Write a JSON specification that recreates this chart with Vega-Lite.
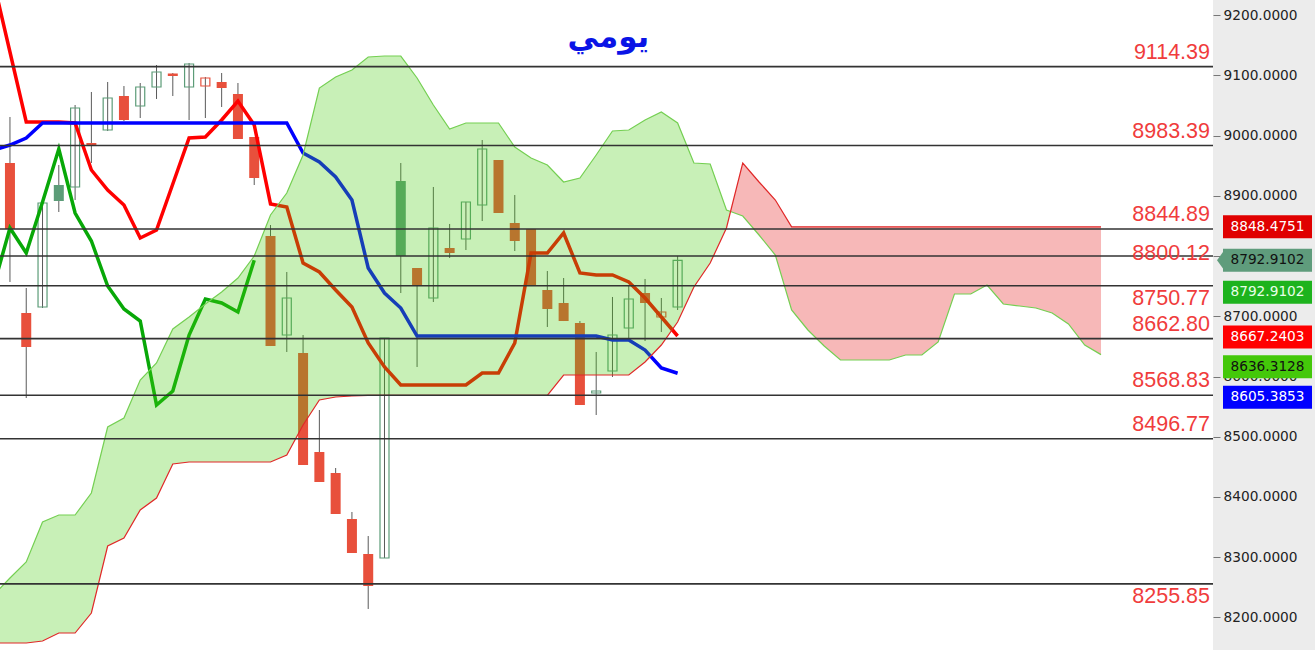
{
  "$schema": "https://vega.github.io/schema/vega-lite/v6.json",
  "width": 1213,
  "height": 650,
  "autosize": {"type": "none"},
  "padding": {"left": 0, "top": 0, "right": 102, "bottom": 0},
  "background": "#ececec",
  "config": {"view": {"fill": "#ffffff", "stroke": null}},
  "datasets": {
    "candles": [
      {"i":0,"o":8954.4,"h":9030.8,"l":8756.9,"c":8844.9},
      {"i":1,"o":8705.4,"h":8746.9,"l":8564.3,"c":8649.0},
      {"i":2,"o":8715.4,"h":8891.3,"l":8713.7,"c":8888.0},
      {"i":3,"o":8917.9,"h":8951.1,"l":8873.1,"c":8891.3},
      {"i":4,"o":8914.6,"h":9050.7,"l":8893.0,"c":9045.7},
      {"i":5,"o":8987.6,"h":9072.3,"l":8954.4,"c":8984.3},
      {"i":6,"o":9009.2,"h":9088.9,"l":9007.5,"c":9062.3},
      {"i":7,"o":9065.6,"h":9082.2,"l":9024.1,"c":9025.8},
      {"i":8,"o":9049.0,"h":9087.2,"l":9029.1,"c":9080.6},
      {"i":9,"o":9080.6,"h":9117.1,"l":9060.7,"c":9105.5},
      {"i":10,"o":9103.0,"h":9103.8,"l":9065.6,"c":9098.8},
      {"i":11,"o":9080.6,"h":9120.4,"l":9025.8,"c":9118.8},
      {"i":12,"o":9082.2,"h":9097.2,"l":9029.1,"c":9095.5},
      {"i":13,"o":9088.9,"h":9103.8,"l":9047.4,"c":9078.9},
      {"i":14,"o":9069.0,"h":9087.2,"l":8994.3,"c":8994.3},
      {"i":15,"o":8997.6,"h":8997.6,"l":8917.9,"c":8929.5},
      {"i":16,"o":8833.2,"h":8851.5,"l":8650.6,"c":8650.6},
      {"i":17,"o":8668.9,"h":8773.5,"l":8640.7,"c":8730.3},
      {"i":18,"o":8639.0,"h":8668.9,"l":8453.1,"c":8453.1},
      {"i":19,"o":8474.7,"h":8544.4,"l":8424.9,"c":8424.9},
      {"i":20,"o":8439.8,"h":8448.1,"l":8371.8,"c":8371.8},
      {"i":21,"o":8363.5,"h":8375.1,"l":8307.0,"c":8307.0},
      {"i":22,"o":8305.4,"h":8335.2,"l":8214.1,"c":8252.2},
      {"i":23,"o":8298.7,"h":8663.9,"l":8298.7,"c":8663.9},
      {"i":24,"o":8924.5,"h":8954.4,"l":8738.6,"c":8800.0},
      {"i":25,"o":8780.1,"h":8780.1,"l":8615.8,"c":8750.2},
      {"i":26,"o":8730.3,"h":8914.6,"l":8723.7,"c":8846.5},
      {"i":27,"o":8813.3,"h":8853.2,"l":8796.7,"c":8805.0},
      {"i":28,"o":8828.3,"h":8889.7,"l":8810.0,"c":8889.7},
      {"i":29,"o":8884.7,"h":8992.6,"l":8858.1,"c":8977.7},
      {"i":30,"o":8959.4,"h":8959.4,"l":8871.4,"c":8871.4},
      {"i":31,"o":8854.8,"h":8901.3,"l":8808.3,"c":8824.9},
      {"i":32,"o":8844.9,"h":8844.9,"l":8750.2,"c":8750.2},
      {"i":33,"o":8743.6,"h":8775.1,"l":8682.2,"c":8712.1},
      {"i":34,"o":8722.0,"h":8763.5,"l":8692.1,"c":8692.1},
      {"i":35,"o":8688.8,"h":8692.1,"l":8552.7,"c":8552.7},
      {"i":36,"o":8572.6,"h":8640.7,"l":8536.1,"c":8575.9},
      {"i":37,"o":8609.1,"h":8732.0,"l":8599.2,"c":8668.9},
      {"i":38,"o":8680.5,"h":8751.9,"l":8663.9,"c":8728.7},
      {"i":39,"o":8738.6,"h":8761.9,"l":8658.9,"c":8722.0},
      {"i":40,"o":8698.8,"h":8730.3,"l":8673.9,"c":8707.1},
      {"i":41,"o":8715.4,"h":8800.0,"l":8710.4,"c":8792.91}
    ],
    "lines": [
      {"i":-1,"tenkan":9254.9,"kijun":8976.0,"chikou":8750.2},
      {"i":0,"tenkan":9138.7,"kijun":8984.3,"chikou":8846.5},
      {"i":1,"tenkan":9022.5,"kijun":8995.9,"chikou":8805.0},
      {"i":2,"tenkan":9022.5,"kijun":9020.8,"chikou":8889.7},
      {"i":3,"tenkan":9022.5,"kijun":9020.8,"chikou":8977.7},
      {"i":4,"tenkan":9020.8,"kijun":9020.8,"chikou":8871.4},
      {"i":5,"tenkan":8942.8,"kijun":9020.8,"chikou":8824.9},
      {"i":6,"tenkan":8909.6,"kijun":9020.8,"chikou":8750.2},
      {"i":7,"tenkan":8884.7,"kijun":9020.8,"chikou":8712.1},
      {"i":8,"tenkan":8829.9,"kijun":9020.8,"chikou":8692.1},
      {"i":9,"tenkan":8843.2,"kijun":9020.8,"chikou":8552.7},
      {"i":10,"tenkan":8919.6,"kijun":9020.8,"chikou":8575.9},
      {"i":11,"tenkan":8995.9,"kijun":9020.8,"chikou":8668.9},
      {"i":12,"tenkan":8997.6,"kijun":9020.8,"chikou":8728.7},
      {"i":13,"tenkan":9025.8,"kijun":9020.8,"chikou":8722.0},
      {"i":14,"tenkan":9057.3,"kijun":9020.8,"chikou":8707.1},
      {"i":15,"tenkan":9017.5,"kijun":9020.8,"chikou":8792.91},
      {"i":16,"tenkan":8886.4,"kijun":9020.8},
      {"i":17,"tenkan":8881.4,"kijun":9020.8},
      {"i":18,"tenkan":8788.4,"kijun":8971.0},
      {"i":19,"tenkan":8773.5,"kijun":8956.1},
      {"i":20,"tenkan":8743.6,"kijun":8931.2},
      {"i":21,"tenkan":8715.4,"kijun":8893.0},
      {"i":22,"tenkan":8655.6,"kijun":8780.1},
      {"i":23,"tenkan":8615.8,"kijun":8738.6},
      {"i":24,"tenkan":8585.9,"kijun":8713.7},
      {"i":25,"tenkan":8585.9,"kijun":8667.2},
      {"i":26,"tenkan":8585.9,"kijun":8667.2},
      {"i":27,"tenkan":8585.9,"kijun":8667.2},
      {"i":28,"tenkan":8585.9,"kijun":8667.2},
      {"i":29,"tenkan":8605.8,"kijun":8667.2},
      {"i":30,"tenkan":8605.8,"kijun":8667.2},
      {"i":31,"tenkan":8655.6,"kijun":8667.2},
      {"i":32,"tenkan":8805.0,"kijun":8667.2},
      {"i":33,"tenkan":8805.0,"kijun":8667.2},
      {"i":34,"tenkan":8838.2,"kijun":8667.2},
      {"i":35,"tenkan":8771.8,"kijun":8667.2},
      {"i":36,"tenkan":8768.5,"kijun":8667.2},
      {"i":37,"tenkan":8768.5,"kijun":8660.6},
      {"i":38,"tenkan":8756.9,"kijun":8660.6},
      {"i":39,"tenkan":8730.3,"kijun":8644.0},
      {"i":40,"tenkan":8698.8,"kijun":8614.1},
      {"i":41,"tenkan":8667.24,"kijun":8605.39}
    ],
    "cloud": [
      {"i":-1,"a":8237.3,"b":8157.6},
      {"i":0,"a":8265.5,"b":8157.6},
      {"i":1,"a":8292.1,"b":8157.6},
      {"i":2,"a":8358.5,"b":8160.9},
      {"i":3,"a":8370.1,"b":8174.2},
      {"i":4,"a":8370.1,"b":8174.2},
      {"i":5,"a":8406.6,"b":8207.4},
      {"i":6,"a":8516.2,"b":8318.6},
      {"i":7,"a":8531.1,"b":8331.9},
      {"i":8,"a":8594.2,"b":8378.4},
      {"i":9,"a":8622.4,"b":8398.3},
      {"i":10,"a":8678.9,"b":8454.8},
      {"i":11,"a":8698.8,"b":8458.1},
      {"i":12,"a":8720.4,"b":8458.1},
      {"i":13,"a":8740.3,"b":8458.1},
      {"i":14,"a":8763.5,"b":8458.1},
      {"i":15,"a":8800.0,"b":8458.1},
      {"i":16,"a":8868.1,"b":8458.1},
      {"i":17,"a":8904.6,"b":8469.7},
      {"i":18,"a":8967.7,"b":8519.5},
      {"i":19,"a":9078.9,"b":8561.0},
      {"i":20,"a":9097.2,"b":8566.0},
      {"i":21,"a":9108.8,"b":8567.6},
      {"i":22,"a":9130.4,"b":8568.83},
      {"i":23,"a":9132.0,"b":8568.83},
      {"i":24,"a":9132.0,"b":8568.83},
      {"i":25,"a":9095.5,"b":8568.83},
      {"i":26,"a":9050.7,"b":8568.83},
      {"i":27,"a":9010.9,"b":8568.83},
      {"i":28,"a":9020.8,"b":8568.83},
      {"i":29,"a":9020.8,"b":8568.83},
      {"i":30,"a":9020.8,"b":8568.83},
      {"i":31,"a":8981.0,"b":8568.83},
      {"i":32,"a":8962.7,"b":8568.83},
      {"i":33,"a":8951.1,"b":8568.83},
      {"i":34,"a":8922.9,"b":8602.5},
      {"i":35,"a":8929.5,"b":8602.5},
      {"i":36,"a":8967.7,"b":8602.5},
      {"i":37,"a":9007.5,"b":8602.5},
      {"i":38,"a":9009.2,"b":8602.5},
      {"i":39,"a":9025.8,"b":8624.1},
      {"i":40,"a":9039.1,"b":8652.3},
      {"i":41,"a":9020.8,"b":8690.5},
      {"i":42,"a":8954.4,"b":8748.6},
      {"i":43,"a":8952.8,"b":8788.4},
      {"i":44,"a":8876.4,"b":8846.5},
      {"i":44.25,"a":8873.9,"b":8873.9},
      {"i":45,"a":8866.4,"b":8954.4},
      {"i":46,"a":8834.9,"b":8922.9},
      {"i":47,"a":8801.7,"b":8893.0},
      {"i":48,"a":8710.4,"b":8848.48},
      {"i":49,"a":8677.2,"b":8848.48},
      {"i":50,"a":8650.6,"b":8848.48},
      {"i":51,"a":8627.4,"b":8848.48},
      {"i":52,"a":8627.4,"b":8848.48},
      {"i":53,"a":8627.4,"b":8848.48},
      {"i":54,"a":8627.4,"b":8848.48},
      {"i":55,"a":8635.7,"b":8848.48},
      {"i":56,"a":8635.7,"b":8848.48},
      {"i":57,"a":8657.3,"b":8848.48},
      {"i":58,"a":8737.0,"b":8848.48},
      {"i":59,"a":8737.0,"b":8848.48},
      {"i":60,"a":8751.9,"b":8848.48},
      {"i":61,"a":8720.4,"b":8848.48},
      {"i":62,"a":8717.0,"b":8848.48},
      {"i":63,"a":8713.7,"b":8848.48},
      {"i":64,"a":8705.4,"b":8848.48},
      {"i":65,"a":8687.2,"b":8848.48},
      {"i":66,"a":8652.3,"b":8848.48},
      {"i":67,"a":8636.31,"b":8848.48}
    ],
    "levels": [
      {"v":9114.39},{"v":8983.39},{"v":8844.89},{"v":8800.12},{"v":8750.77},
      {"v":8662.80},{"v":8568.83},{"v":8496.77},{"v":8255.85}
    ],
    "tags": [
      {"kind":"spanB","v":8848.4751},
      {"kind":"close","v":8792.9102},
      {"kind":"chikou","v":8792.9102},
      {"kind":"tenkan","v":8667.2403},
      {"kind":"spanA","v":8636.3128},
      {"kind":"kijun","v":8605.3853}
    ],
    "heading": [
      {"t":"يومي","i":36.75,"p":9147}
    ]
  },
  "layer": [
    {
      "data": {"name": "candles"},
      "mark": {"type": "rule", "color": "#5a5a5a", "strokeWidth": 1},
      "encoding": {
        "x": {"field": "i", "type": "quantitative", "scale": {"domain": [-0.3045, 73.57], "nice": false, "zero": false}, "axis": null},
        "y": {"field": "l", "type": "quantitative", "scale": {"domain": [8146, 9225], "nice": false, "zero": false},
              "axis": {"orient": "right", "values": [8200,8300,8400,8500,8600,8700,8800,8900,9000,9100,9200], "format": ".4f", "title": null, "grid": false, "domain": false, "tickColor": "#777777", "tickSize": 7, "tickWidth": 1, "labelPadding": 3, "labelFont": "DejaVu Sans", "labelFontSize": 13.7, "labelColor": "#222222", "labelFlush": false, "labelOverlap": false}},
        "y2": {"field": "h"}
      }
    },
    {
      "data": {"name": "candles"},
      "transform": [
        {"window": [{"op": "lag", "field": "c", "as": "pc"}], "sort": [{"field": "i"}]},
        {"calculate": "datum.pc == null ? (datum.c >= datum.o ? 'up' : 'down') : (datum.c >= datum.pc ? 'up' : 'down')", "as": "dir"},
        {"calculate": "datum.c >= datum.o ? 'hollow' : 'filled'", "as": "body"}
      ],
      "layer": [
        {
          "transform": [{"filter": "datum.body == 'filled'"}],
          "mark": {"type": "bar", "size": 10},
          "encoding": {
            "x": {"field": "i", "type": "quantitative", "scale": {"domain": [-0.3045, 73.57], "nice": false, "zero": false}, "axis": null},
            "y": {"field": "o", "type": "quantitative", "scale": {"domain": [8146, 9225], "nice": false, "zero": false},
                  "axis": {"orient": "right", "values": [8200,8300,8400,8500,8600,8700,8800,8900,9000,9100,9200], "format": ".4f", "title": null, "grid": false, "domain": false, "tickColor": "#777777", "tickSize": 7, "tickWidth": 1, "labelPadding": 3, "labelFont": "DejaVu Sans", "labelFontSize": 13.7, "labelColor": "#222222", "labelFlush": false, "labelOverlap": false}},
            "y2": {"field": "c"},
            "color": {"field": "dir", "type": "nominal", "scale": {"domain": ["up", "down"], "range": ["#5c9c78", "#e8503c"]}, "legend": null}
          }
        },
        {
          "transform": [{"filter": "datum.body == 'hollow'"}],
          "mark": {"type": "bar", "size": 9, "filled": false, "strokeWidth": 1.2},
          "encoding": {
            "x": {"field": "i", "type": "quantitative", "scale": {"domain": [-0.3045, 73.57], "nice": false, "zero": false}, "axis": null},
            "y": {"field": "o", "type": "quantitative", "scale": {"domain": [8146, 9225], "nice": false, "zero": false},
                  "axis": {"orient": "right", "values": [8200,8300,8400,8500,8600,8700,8800,8900,9000,9100,9200], "format": ".4f", "title": null, "grid": false, "domain": false, "tickColor": "#777777", "tickSize": 7, "tickWidth": 1, "labelPadding": 3, "labelFont": "DejaVu Sans", "labelFontSize": 13.7, "labelColor": "#222222", "labelFlush": false, "labelOverlap": false}},
            "y2": {"field": "c"},
            "color": {"field": "dir", "type": "nominal", "scale": {"domain": ["up", "down"], "range": ["#5c9c78", "#e8503c"]}, "legend": null}
          }
        }
      ]
    },
    {
      "data": {"name": "lines"},
      "mark": {"type": "line", "color": "#ff0000", "strokeWidth": 3.5},
      "encoding": {
        "x": {"field": "i", "type": "quantitative", "scale": {"domain": [-0.3045, 73.57], "nice": false, "zero": false}, "axis": null},
        "y": {"field": "tenkan", "type": "quantitative", "scale": {"domain": [8146, 9225], "nice": false, "zero": false},
              "axis": {"orient": "right", "values": [8200,8300,8400,8500,8600,8700,8800,8900,9000,9100,9200], "format": ".4f", "title": null, "grid": false, "domain": false, "tickColor": "#777777", "tickSize": 7, "tickWidth": 1, "labelPadding": 3, "labelFont": "DejaVu Sans", "labelFontSize": 13.7, "labelColor": "#222222", "labelFlush": false, "labelOverlap": false}}
      }
    },
    {
      "data": {"name": "lines"},
      "mark": {"type": "line", "color": "#0000ff", "strokeWidth": 3.5},
      "encoding": {
        "x": {"field": "i", "type": "quantitative", "scale": {"domain": [-0.3045, 73.57], "nice": false, "zero": false}, "axis": null},
        "y": {"field": "kijun", "type": "quantitative", "scale": {"domain": [8146, 9225], "nice": false, "zero": false},
              "axis": {"orient": "right", "values": [8200,8300,8400,8500,8600,8700,8800,8900,9000,9100,9200], "format": ".4f", "title": null, "grid": false, "domain": false, "tickColor": "#777777", "tickSize": 7, "tickWidth": 1, "labelPadding": 3, "labelFont": "DejaVu Sans", "labelFontSize": 13.7, "labelColor": "#222222", "labelFlush": false, "labelOverlap": false}}
      }
    },
    {
      "data": {"name": "lines"},
      "mark": {"type": "line", "color": "#08a808", "strokeWidth": 3.5},
      "encoding": {
        "x": {"field": "i", "type": "quantitative", "scale": {"domain": [-0.3045, 73.57], "nice": false, "zero": false}, "axis": null},
        "y": {"field": "chikou", "type": "quantitative", "scale": {"domain": [8146, 9225], "nice": false, "zero": false},
              "axis": {"orient": "right", "values": [8200,8300,8400,8500,8600,8700,8800,8900,9000,9100,9200], "format": ".4f", "title": null, "grid": false, "domain": false, "tickColor": "#777777", "tickSize": 7, "tickWidth": 1, "labelPadding": 3, "labelFont": "DejaVu Sans", "labelFontSize": 13.7, "labelColor": "#222222", "labelFlush": false, "labelOverlap": false}}
      }
    },
    {
      "data": {"name": "cloud"},
      "transform": [{"filter": "datum.i <= 44.25"}],
      "mark": {"type": "area", "color": "#48cd12", "opacity": 0.3},
      "encoding": {
        "x": {"field": "i", "type": "quantitative", "scale": {"domain": [-0.3045, 73.57], "nice": false, "zero": false}, "axis": null},
        "y": {"field": "a", "type": "quantitative", "scale": {"domain": [8146, 9225], "nice": false, "zero": false},
              "axis": {"orient": "right", "values": [8200,8300,8400,8500,8600,8700,8800,8900,9000,9100,9200], "format": ".4f", "title": null, "grid": false, "domain": false, "tickColor": "#777777", "tickSize": 7, "tickWidth": 1, "labelPadding": 3, "labelFont": "DejaVu Sans", "labelFontSize": 13.7, "labelColor": "#222222", "labelFlush": false, "labelOverlap": false}},
        "y2": {"field": "b"}
      }
    },
    {
      "data": {"name": "cloud"},
      "transform": [{"filter": "datum.i >= 44.25"}],
      "mark": {"type": "area", "color": "#e83030", "opacity": 0.34},
      "encoding": {
        "x": {"field": "i", "type": "quantitative", "scale": {"domain": [-0.3045, 73.57], "nice": false, "zero": false}, "axis": null},
        "y": {"field": "a", "type": "quantitative", "scale": {"domain": [8146, 9225], "nice": false, "zero": false},
              "axis": {"orient": "right", "values": [8200,8300,8400,8500,8600,8700,8800,8900,9000,9100,9200], "format": ".4f", "title": null, "grid": false, "domain": false, "tickColor": "#777777", "tickSize": 7, "tickWidth": 1, "labelPadding": 3, "labelFont": "DejaVu Sans", "labelFontSize": 13.7, "labelColor": "#222222", "labelFlush": false, "labelOverlap": false}},
        "y2": {"field": "b"}
      }
    },
    {
      "data": {"name": "cloud"},
      "mark": {"type": "line", "color": "#74cf52", "strokeWidth": 1.2},
      "encoding": {
        "x": {"field": "i", "type": "quantitative", "scale": {"domain": [-0.3045, 73.57], "nice": false, "zero": false}, "axis": null},
        "y": {"field": "a", "type": "quantitative", "scale": {"domain": [8146, 9225], "nice": false, "zero": false},
              "axis": {"orient": "right", "values": [8200,8300,8400,8500,8600,8700,8800,8900,9000,9100,9200], "format": ".4f", "title": null, "grid": false, "domain": false, "tickColor": "#777777", "tickSize": 7, "tickWidth": 1, "labelPadding": 3, "labelFont": "DejaVu Sans", "labelFontSize": 13.7, "labelColor": "#222222", "labelFlush": false, "labelOverlap": false}}
      }
    },
    {
      "data": {"name": "cloud"},
      "mark": {"type": "line", "color": "#e02828", "strokeWidth": 1.2},
      "encoding": {
        "x": {"field": "i", "type": "quantitative", "scale": {"domain": [-0.3045, 73.57], "nice": false, "zero": false}, "axis": null},
        "y": {"field": "b", "type": "quantitative", "scale": {"domain": [8146, 9225], "nice": false, "zero": false},
              "axis": {"orient": "right", "values": [8200,8300,8400,8500,8600,8700,8800,8900,9000,9100,9200], "format": ".4f", "title": null, "grid": false, "domain": false, "tickColor": "#777777", "tickSize": 7, "tickWidth": 1, "labelPadding": 3, "labelFont": "DejaVu Sans", "labelFontSize": 13.7, "labelColor": "#222222", "labelFlush": false, "labelOverlap": false}}
      }
    },
    {
      "data": {"name": "levels"},
      "mark": {"type": "rule", "color": "#333333", "strokeWidth": 1.6},
      "encoding": {
        "y": {"field": "v", "type": "quantitative", "scale": {"domain": [8146, 9225], "nice": false, "zero": false},
              "axis": {"orient": "right", "values": [8200,8300,8400,8500,8600,8700,8800,8900,9000,9100,9200], "format": ".4f", "title": null, "grid": false, "domain": false, "tickColor": "#777777", "tickSize": 7, "tickWidth": 1, "labelPadding": 3, "labelFont": "DejaVu Sans", "labelFontSize": 13.7, "labelColor": "#222222", "labelFlush": false, "labelOverlap": false}}
      }
    },
    {
      "data": {"name": "levels"},
      "transform": [{"filter": {"field": "v", "oneOf": [9114.39, 8983.39, 8844.89, 8662.80, 8568.83, 8496.77]}}],
      "mark": {"type": "text", "align": "right", "baseline": "alphabetic", "dx": -3, "dy": -8, "font": "Liberation Sans", "fontSize": 21.5, "color": "#f03c3c"},
      "encoding": {
        "x": {"value": "width"},
        "y": {"field": "v", "type": "quantitative", "scale": {"domain": [8146, 9225], "nice": false, "zero": false},
              "axis": {"orient": "right", "values": [8200,8300,8400,8500,8600,8700,8800,8900,9000,9100,9200], "format": ".4f", "title": null, "grid": false, "domain": false, "tickColor": "#777777", "tickSize": 7, "tickWidth": 1, "labelPadding": 3, "labelFont": "DejaVu Sans", "labelFontSize": 13.7, "labelColor": "#222222", "labelFlush": false, "labelOverlap": false}},
        "text": {"field": "v", "format": ".2f"}
      }
    },
    {
      "data": {"name": "levels"},
      "transform": [{"filter": {"field": "v", "oneOf": [8800.12]}}],
      "mark": {"type": "text", "align": "right", "baseline": "middle", "dx": -3, "dy": -2, "font": "Liberation Sans", "fontSize": 21.5, "color": "#f03c3c"},
      "encoding": {
        "x": {"value": "width"},
        "y": {"field": "v", "type": "quantitative", "scale": {"domain": [8146, 9225], "nice": false, "zero": false},
              "axis": {"orient": "right", "values": [8200,8300,8400,8500,8600,8700,8800,8900,9000,9100,9200], "format": ".4f", "title": null, "grid": false, "domain": false, "tickColor": "#777777", "tickSize": 7, "tickWidth": 1, "labelPadding": 3, "labelFont": "DejaVu Sans", "labelFontSize": 13.7, "labelColor": "#222222", "labelFlush": false, "labelOverlap": false}},
        "text": {"field": "v", "format": ".2f"}
      }
    },
    {
      "data": {"name": "levels"},
      "transform": [{"filter": {"field": "v", "oneOf": [8750.77, 8255.85]}}],
      "mark": {"type": "text", "align": "right", "baseline": "top", "dx": -3, "dy": 2.5, "font": "Liberation Sans", "fontSize": 21.5, "color": "#f03c3c"},
      "encoding": {
        "x": {"value": "width"},
        "y": {"field": "v", "type": "quantitative", "scale": {"domain": [8146, 9225], "nice": false, "zero": false},
              "axis": {"orient": "right", "values": [8200,8300,8400,8500,8600,8700,8800,8900,9000,9100,9200], "format": ".4f", "title": null, "grid": false, "domain": false, "tickColor": "#777777", "tickSize": 7, "tickWidth": 1, "labelPadding": 3, "labelFont": "DejaVu Sans", "labelFontSize": 13.7, "labelColor": "#222222", "labelFlush": false, "labelOverlap": false}},
        "text": {"field": "v", "format": ".2f"}
      }
    },
    {
      "data": {"name": "heading"},
      "mark": {"type": "text", "align": "center", "baseline": "alphabetic", "font": "DejaVu Sans", "fontSize": 31, "fontWeight": "bold", "color": "#0a14e6"},
      "encoding": {
        "x": {"field": "i", "type": "quantitative", "scale": {"domain": [-0.3045, 73.57], "nice": false, "zero": false}, "axis": null},
        "y": {"field": "p", "type": "quantitative", "scale": {"domain": [8146, 9225], "nice": false, "zero": false},
              "axis": {"orient": "right", "values": [8200,8300,8400,8500,8600,8700,8800,8900,9000,9100,9200], "format": ".4f", "title": null, "grid": false, "domain": false, "tickColor": "#777777", "tickSize": 7, "tickWidth": 1, "labelPadding": 3, "labelFont": "DejaVu Sans", "labelFontSize": 13.7, "labelColor": "#222222", "labelFlush": false, "labelOverlap": false}},
        "text": {"field": "t"}
      }
    },
    {
      "data": {"name": "tags"},
      "transform": [{"filter": "datum.kind == 'spanB'"}],
      "layer": [
        {"mark": {"type": "rect", "fill": "#e00000", "xOffset": 10, "x2Offset": 99, "yOffset": -11.5, "y2Offset": 11.5},
         "encoding": {"x": {"value": "width"}, "x2": {"value": "width"}, "y": {"field": "v", "type": "quantitative", "scale": {"domain": [8146, 9225], "nice": false, "zero": false}, "axis": {"orient": "right", "values": [8200,8300,8400,8500,8600,8700,8800,8900,9000,9100,9200], "format": ".4f", "title": null, "grid": false, "domain": false, "tickColor": "#777777", "tickSize": 7, "tickWidth": 1, "labelPadding": 3, "labelFont": "DejaVu Sans", "labelFontSize": 13.7, "labelColor": "#222222", "labelFlush": false, "labelOverlap": false}}, "y2": {"field": "v"}}},
        {"mark": {"type": "text", "color": "#ffffff", "font": "DejaVu Sans", "fontSize": 13.7, "align": "center", "baseline": "middle", "xOffset": 54.5},
         "encoding": {"x": {"value": "width"}, "y": {"field": "v", "type": "quantitative", "scale": {"domain": [8146, 9225], "nice": false, "zero": false}, "axis": {"orient": "right", "values": [8200,8300,8400,8500,8600,8700,8800,8900,9000,9100,9200], "format": ".4f", "title": null, "grid": false, "domain": false, "tickColor": "#777777", "tickSize": 7, "tickWidth": 1, "labelPadding": 3, "labelFont": "DejaVu Sans", "labelFontSize": 13.7, "labelColor": "#222222", "labelFlush": false, "labelOverlap": false}}, "text": {"field": "v", "format": ".4f"}}}
      ]
    },
    {
      "data": {"name": "tags"},
      "transform": [{"filter": "datum.kind == 'close'"}],
      "layer": [
        {"mark": {"type": "point", "shape": "M 0.45 -1 L -0.27 0 L 0.45 1 Z", "size": 484, "filled": true, "opacity": 1, "color": "#5f9c7c", "xOffset": 7, "strokeWidth": 0},
         "encoding": {"x": {"value": "width"}, "y": {"field": "v", "type": "quantitative", "scale": {"domain": [8146, 9225], "nice": false, "zero": false}, "axis": {"orient": "right", "values": [8200,8300,8400,8500,8600,8700,8800,8900,9000,9100,9200], "format": ".4f", "title": null, "grid": false, "domain": false, "tickColor": "#777777", "tickSize": 7, "tickWidth": 1, "labelPadding": 3, "labelFont": "DejaVu Sans", "labelFontSize": 13.7, "labelColor": "#222222", "labelFlush": false, "labelOverlap": false}}}},
        {"mark": {"type": "rect", "fill": "#5f9c7c", "xOffset": 10, "x2Offset": 99, "yOffset": -11.5, "y2Offset": 11.5},
         "encoding": {"x": {"value": "width"}, "x2": {"value": "width"}, "y": {"field": "v", "type": "quantitative", "scale": {"domain": [8146, 9225], "nice": false, "zero": false}, "axis": {"orient": "right", "values": [8200,8300,8400,8500,8600,8700,8800,8900,9000,9100,9200], "format": ".4f", "title": null, "grid": false, "domain": false, "tickColor": "#777777", "tickSize": 7, "tickWidth": 1, "labelPadding": 3, "labelFont": "DejaVu Sans", "labelFontSize": 13.7, "labelColor": "#222222", "labelFlush": false, "labelOverlap": false}}, "y2": {"field": "v"}}},
        {"mark": {"type": "text", "color": "#111111", "font": "DejaVu Sans", "fontSize": 13.7, "align": "center", "baseline": "middle", "xOffset": 54.5},
         "encoding": {"x": {"value": "width"}, "y": {"field": "v", "type": "quantitative", "scale": {"domain": [8146, 9225], "nice": false, "zero": false}, "axis": {"orient": "right", "values": [8200,8300,8400,8500,8600,8700,8800,8900,9000,9100,9200], "format": ".4f", "title": null, "grid": false, "domain": false, "tickColor": "#777777", "tickSize": 7, "tickWidth": 1, "labelPadding": 3, "labelFont": "DejaVu Sans", "labelFontSize": 13.7, "labelColor": "#222222", "labelFlush": false, "labelOverlap": false}}, "text": {"field": "v", "format": ".4f"}}}
      ]
    },
    {
      "data": {"name": "tags"},
      "transform": [{"filter": "datum.kind == 'chikou'"}],
      "layer": [
        {"mark": {"type": "rect", "fill": "#1db31d", "xOffset": 10, "x2Offset": 99, "yOffset": 20.5, "y2Offset": 43.5},
         "encoding": {"x": {"value": "width"}, "x2": {"value": "width"}, "y": {"field": "v", "type": "quantitative", "scale": {"domain": [8146, 9225], "nice": false, "zero": false}, "axis": {"orient": "right", "values": [8200,8300,8400,8500,8600,8700,8800,8900,9000,9100,9200], "format": ".4f", "title": null, "grid": false, "domain": false, "tickColor": "#777777", "tickSize": 7, "tickWidth": 1, "labelPadding": 3, "labelFont": "DejaVu Sans", "labelFontSize": 13.7, "labelColor": "#222222", "labelFlush": false, "labelOverlap": false}}, "y2": {"field": "v"}}},
        {"mark": {"type": "text", "color": "#e8ffe8", "font": "DejaVu Sans", "fontSize": 13.7, "align": "center", "baseline": "middle", "xOffset": 54.5, "yOffset": 32},
         "encoding": {"x": {"value": "width"}, "y": {"field": "v", "type": "quantitative", "scale": {"domain": [8146, 9225], "nice": false, "zero": false}, "axis": {"orient": "right", "values": [8200,8300,8400,8500,8600,8700,8800,8900,9000,9100,9200], "format": ".4f", "title": null, "grid": false, "domain": false, "tickColor": "#777777", "tickSize": 7, "tickWidth": 1, "labelPadding": 3, "labelFont": "DejaVu Sans", "labelFontSize": 13.7, "labelColor": "#222222", "labelFlush": false, "labelOverlap": false}}, "text": {"field": "v", "format": ".4f"}}}
      ]
    },
    {
      "data": {"name": "tags"},
      "transform": [{"filter": "datum.kind == 'tenkan'"}],
      "layer": [
        {"mark": {"type": "rect", "fill": "#ff0000", "xOffset": 10, "x2Offset": 99, "yOffset": -10.5, "y2Offset": 12.5},
         "encoding": {"x": {"value": "width"}, "x2": {"value": "width"}, "y": {"field": "v", "type": "quantitative", "scale": {"domain": [8146, 9225], "nice": false, "zero": false}, "axis": {"orient": "right", "values": [8200,8300,8400,8500,8600,8700,8800,8900,9000,9100,9200], "format": ".4f", "title": null, "grid": false, "domain": false, "tickColor": "#777777", "tickSize": 7, "tickWidth": 1, "labelPadding": 3, "labelFont": "DejaVu Sans", "labelFontSize": 13.7, "labelColor": "#222222", "labelFlush": false, "labelOverlap": false}}, "y2": {"field": "v"}}},
        {"mark": {"type": "text", "color": "#ffffff", "font": "DejaVu Sans", "fontSize": 13.7, "align": "center", "baseline": "middle", "xOffset": 54.5, "yOffset": 1},
         "encoding": {"x": {"value": "width"}, "y": {"field": "v", "type": "quantitative", "scale": {"domain": [8146, 9225], "nice": false, "zero": false}, "axis": {"orient": "right", "values": [8200,8300,8400,8500,8600,8700,8800,8900,9000,9100,9200], "format": ".4f", "title": null, "grid": false, "domain": false, "tickColor": "#777777", "tickSize": 7, "tickWidth": 1, "labelPadding": 3, "labelFont": "DejaVu Sans", "labelFontSize": 13.7, "labelColor": "#222222", "labelFlush": false, "labelOverlap": false}}, "text": {"field": "v", "format": ".4f"}}}
      ]
    },
    {
      "data": {"name": "tags"},
      "transform": [{"filter": "datum.kind == 'spanA'"}],
      "layer": [
        {"mark": {"type": "rect", "fill": "#44c80a", "xOffset": 10, "x2Offset": 99, "yOffset": 0.5, "y2Offset": 23.5},
         "encoding": {"x": {"value": "width"}, "x2": {"value": "width"}, "y": {"field": "v", "type": "quantitative", "scale": {"domain": [8146, 9225], "nice": false, "zero": false}, "axis": {"orient": "right", "values": [8200,8300,8400,8500,8600,8700,8800,8900,9000,9100,9200], "format": ".4f", "title": null, "grid": false, "domain": false, "tickColor": "#777777", "tickSize": 7, "tickWidth": 1, "labelPadding": 3, "labelFont": "DejaVu Sans", "labelFontSize": 13.7, "labelColor": "#222222", "labelFlush": false, "labelOverlap": false}}, "y2": {"field": "v"}}},
        {"mark": {"type": "text", "color": "#111111", "font": "DejaVu Sans", "fontSize": 13.7, "align": "center", "baseline": "middle", "xOffset": 54.5, "yOffset": 12},
         "encoding": {"x": {"value": "width"}, "y": {"field": "v", "type": "quantitative", "scale": {"domain": [8146, 9225], "nice": false, "zero": false}, "axis": {"orient": "right", "values": [8200,8300,8400,8500,8600,8700,8800,8900,9000,9100,9200], "format": ".4f", "title": null, "grid": false, "domain": false, "tickColor": "#777777", "tickSize": 7, "tickWidth": 1, "labelPadding": 3, "labelFont": "DejaVu Sans", "labelFontSize": 13.7, "labelColor": "#222222", "labelFlush": false, "labelOverlap": false}}, "text": {"field": "v", "format": ".4f"}}}
      ]
    },
    {
      "data": {"name": "tags"},
      "transform": [{"filter": "datum.kind == 'kijun'"}],
      "layer": [
        {"mark": {"type": "rect", "fill": "#0000ff", "xOffset": 10, "x2Offset": 99, "yOffset": 12.5, "y2Offset": 35.5},
         "encoding": {"x": {"value": "width"}, "x2": {"value": "width"}, "y": {"field": "v", "type": "quantitative", "scale": {"domain": [8146, 9225], "nice": false, "zero": false}, "axis": {"orient": "right", "values": [8200,8300,8400,8500,8600,8700,8800,8900,9000,9100,9200], "format": ".4f", "title": null, "grid": false, "domain": false, "tickColor": "#777777", "tickSize": 7, "tickWidth": 1, "labelPadding": 3, "labelFont": "DejaVu Sans", "labelFontSize": 13.7, "labelColor": "#222222", "labelFlush": false, "labelOverlap": false}}, "y2": {"field": "v"}}},
        {"mark": {"type": "text", "color": "#ffffff", "font": "DejaVu Sans", "fontSize": 13.7, "align": "center", "baseline": "middle", "xOffset": 54.5, "yOffset": 24},
         "encoding": {"x": {"value": "width"}, "y": {"field": "v", "type": "quantitative", "scale": {"domain": [8146, 9225], "nice": false, "zero": false}, "axis": {"orient": "right", "values": [8200,8300,8400,8500,8600,8700,8800,8900,9000,9100,9200], "format": ".4f", "title": null, "grid": false, "domain": false, "tickColor": "#777777", "tickSize": 7, "tickWidth": 1, "labelPadding": 3, "labelFont": "DejaVu Sans", "labelFontSize": 13.7, "labelColor": "#222222", "labelFlush": false, "labelOverlap": false}}, "text": {"field": "v", "format": ".4f"}}}
      ]
    }
  ]
}
